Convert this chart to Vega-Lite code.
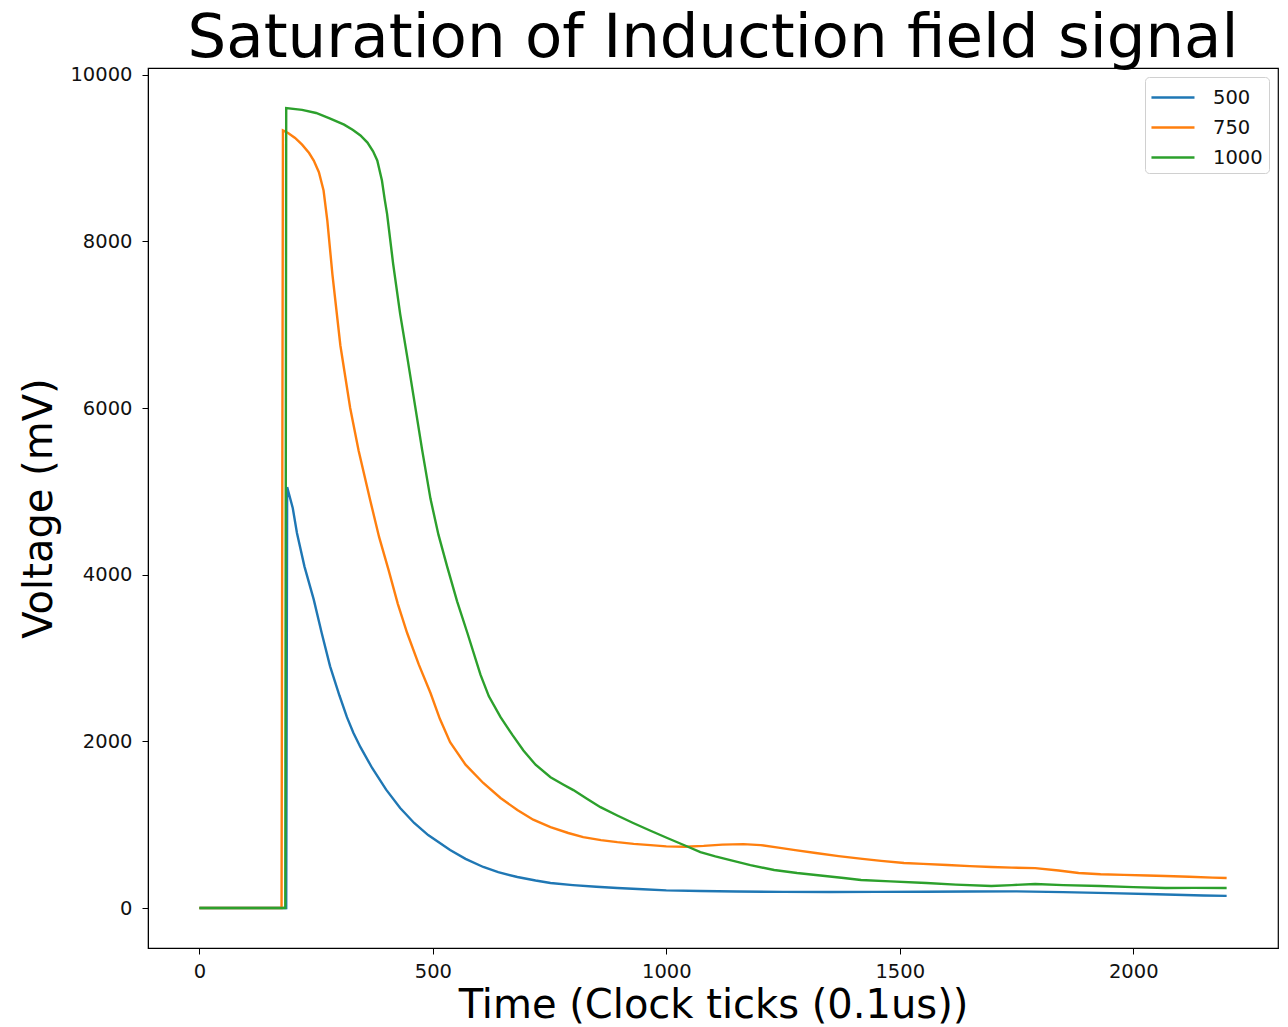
{
  "$schema": "https://vega.github.io/schema/vega-lite/v6.json",
  "width": 1130,
  "height": 880,
  "autosize": {"type": "none"},
  "padding": {"left": 148, "top": 68, "right": 10, "bottom": 79},
  "background": "white",
  "title": {
    "text": "Saturation of Induction field signal",
    "font": "DejaVu Sans",
    "fontSize": 61,
    "fontWeight": "normal",
    "color": "black",
    "anchor": "middle",
    "baseline": "alphabetic",
    "offset": 10,
    "dy": 63
  },
  "config": {
    "view": {"stroke": "black", "strokeWidth": 1.2},
    "axis": {
      "labelFont": "DejaVu Sans",
      "labelFontSize": 19.5,
      "labelColor": "#111",
      "tickColor": "black",
      "tickSize": 6,
      "domainColor": "black",
      "titleFont": "DejaVu Sans",
      "titleFontSize": 40,
      "titleFontWeight": "normal",
      "titleColor": "black",
      "grid": false
    },
    "legend": {
      "labelFont": "DejaVu Sans",
      "labelFontSize": 19.5,
      "labelColor": "#111"
    }
  },
  "data": {
    "values": [
      {"t": 0, "v": 0, "s": "500"}, {"t": 186, "v": 0, "s": "500"}, {"t": 188, "v": 5050, "s": "500"},
      {"t": 200, "v": 4800, "s": "500"}, {"t": 209, "v": 4500, "s": "500"}, {"t": 225, "v": 4100, "s": "500"},
      {"t": 245, "v": 3700, "s": "500"}, {"t": 262, "v": 3300, "s": "500"}, {"t": 280, "v": 2900, "s": "500"},
      {"t": 300, "v": 2550, "s": "500"}, {"t": 316, "v": 2290, "s": "500"}, {"t": 330, "v": 2100, "s": "500"},
      {"t": 345, "v": 1930, "s": "500"}, {"t": 370, "v": 1680, "s": "500"}, {"t": 400, "v": 1420, "s": "500"},
      {"t": 430, "v": 1200, "s": "500"}, {"t": 460, "v": 1020, "s": "500"}, {"t": 490, "v": 875, "s": "500"},
      {"t": 537, "v": 695, "s": "500"}, {"t": 570, "v": 590, "s": "500"}, {"t": 608, "v": 492, "s": "500"},
      {"t": 640, "v": 430, "s": "500"}, {"t": 681, "v": 372, "s": "500"}, {"t": 720, "v": 330, "s": "500"},
      {"t": 752, "v": 300, "s": "500"}, {"t": 800, "v": 275, "s": "500"}, {"t": 850, "v": 255, "s": "500"},
      {"t": 895, "v": 240, "s": "500"}, {"t": 950, "v": 225, "s": "500"}, {"t": 1000, "v": 212, "s": "500"},
      {"t": 1073, "v": 204, "s": "500"}, {"t": 1150, "v": 198, "s": "500"}, {"t": 1250, "v": 193, "s": "500"},
      {"t": 1350, "v": 192, "s": "500"}, {"t": 1450, "v": 193, "s": "500"}, {"t": 1550, "v": 195, "s": "500"},
      {"t": 1650, "v": 198, "s": "500"}, {"t": 1750, "v": 200, "s": "500"}, {"t": 1850, "v": 190, "s": "500"},
      {"t": 1950, "v": 178, "s": "500"}, {"t": 2050, "v": 165, "s": "500"}, {"t": 2150, "v": 150, "s": "500"},
      {"t": 2200, "v": 145, "s": "500"},

      {"t": 0, "v": 0, "s": "750"}, {"t": 176, "v": 0, "s": "750"}, {"t": 179, "v": 9330, "s": "750"},
      {"t": 190, "v": 9300, "s": "750"}, {"t": 205, "v": 9240, "s": "750"}, {"t": 220, "v": 9160, "s": "750"},
      {"t": 235, "v": 9060, "s": "750"}, {"t": 245, "v": 8970, "s": "750"}, {"t": 256, "v": 8830, "s": "750"},
      {"t": 266, "v": 8610, "s": "750"}, {"t": 274, "v": 8250, "s": "750"}, {"t": 285, "v": 7600, "s": "750"},
      {"t": 302, "v": 6750, "s": "750"}, {"t": 323, "v": 6000, "s": "750"}, {"t": 341, "v": 5490, "s": "750"},
      {"t": 366, "v": 4890, "s": "750"}, {"t": 385, "v": 4450, "s": "750"}, {"t": 405, "v": 4060, "s": "750"},
      {"t": 425, "v": 3650, "s": "750"}, {"t": 445, "v": 3300, "s": "750"}, {"t": 470, "v": 2920, "s": "750"},
      {"t": 495, "v": 2580, "s": "750"}, {"t": 515, "v": 2270, "s": "750"}, {"t": 537, "v": 1990, "s": "750"},
      {"t": 570, "v": 1720, "s": "750"}, {"t": 608, "v": 1500, "s": "750"}, {"t": 645, "v": 1320, "s": "750"},
      {"t": 681, "v": 1175, "s": "750"}, {"t": 715, "v": 1060, "s": "750"}, {"t": 752, "v": 970, "s": "750"},
      {"t": 790, "v": 900, "s": "750"}, {"t": 822, "v": 850, "s": "750"}, {"t": 860, "v": 815, "s": "750"},
      {"t": 895, "v": 790, "s": "750"}, {"t": 930, "v": 770, "s": "750"}, {"t": 966, "v": 755, "s": "750"},
      {"t": 1000, "v": 740, "s": "750"}, {"t": 1040, "v": 735, "s": "750"}, {"t": 1080, "v": 745, "s": "750"},
      {"t": 1120, "v": 760, "s": "750"}, {"t": 1165, "v": 767, "s": "750"}, {"t": 1202, "v": 755, "s": "750"},
      {"t": 1240, "v": 725, "s": "750"}, {"t": 1276, "v": 695, "s": "750"}, {"t": 1320, "v": 660, "s": "750"},
      {"t": 1369, "v": 623, "s": "750"}, {"t": 1420, "v": 590, "s": "750"}, {"t": 1460, "v": 565, "s": "750"},
      {"t": 1509, "v": 540, "s": "750"}, {"t": 1550, "v": 530, "s": "750"}, {"t": 1602, "v": 516, "s": "750"},
      {"t": 1650, "v": 503, "s": "750"}, {"t": 1696, "v": 492, "s": "750"}, {"t": 1740, "v": 485, "s": "750"},
      {"t": 1790, "v": 478, "s": "750"}, {"t": 1840, "v": 450, "s": "750"}, {"t": 1883, "v": 420, "s": "750"},
      {"t": 1930, "v": 405, "s": "750"}, {"t": 1980, "v": 398, "s": "750"}, {"t": 2030, "v": 390, "s": "750"},
      {"t": 2069, "v": 384, "s": "750"}, {"t": 2120, "v": 375, "s": "750"}, {"t": 2170, "v": 365, "s": "750"},
      {"t": 2200, "v": 360, "s": "750"},

      {"t": 0, "v": 0, "s": "1000"}, {"t": 184, "v": 0, "s": "1000"}, {"t": 186, "v": 9600, "s": "1000"},
      {"t": 220, "v": 9578, "s": "1000"}, {"t": 250, "v": 9540, "s": "1000"}, {"t": 279, "v": 9475, "s": "1000"},
      {"t": 310, "v": 9400, "s": "1000"}, {"t": 329, "v": 9335, "s": "1000"}, {"t": 345, "v": 9270, "s": "1000"},
      {"t": 360, "v": 9185, "s": "1000"}, {"t": 372, "v": 9080, "s": "1000"}, {"t": 381, "v": 8970, "s": "1000"},
      {"t": 391, "v": 8730, "s": "1000"}, {"t": 397, "v": 8500, "s": "1000"}, {"t": 402, "v": 8330, "s": "1000"},
      {"t": 415, "v": 7730, "s": "1000"}, {"t": 430, "v": 7130, "s": "1000"}, {"t": 445, "v": 6620, "s": "1000"},
      {"t": 459, "v": 6130, "s": "1000"}, {"t": 477, "v": 5500, "s": "1000"}, {"t": 495, "v": 4910, "s": "1000"},
      {"t": 512, "v": 4480, "s": "1000"}, {"t": 531, "v": 4090, "s": "1000"}, {"t": 552, "v": 3680, "s": "1000"},
      {"t": 574, "v": 3300, "s": "1000"}, {"t": 602, "v": 2800, "s": "1000"}, {"t": 620, "v": 2540, "s": "1000"},
      {"t": 645, "v": 2290, "s": "1000"}, {"t": 670, "v": 2080, "s": "1000"}, {"t": 694, "v": 1890, "s": "1000"},
      {"t": 720, "v": 1720, "s": "1000"}, {"t": 752, "v": 1570, "s": "1000"}, {"t": 780, "v": 1480, "s": "1000"},
      {"t": 801, "v": 1415, "s": "1000"}, {"t": 830, "v": 1310, "s": "1000"}, {"t": 859, "v": 1210, "s": "1000"},
      {"t": 895, "v": 1110, "s": "1000"}, {"t": 929, "v": 1020, "s": "1000"}, {"t": 965, "v": 930, "s": "1000"},
      {"t": 1002, "v": 840, "s": "1000"}, {"t": 1040, "v": 750, "s": "1000"}, {"t": 1073, "v": 670, "s": "1000"},
      {"t": 1105, "v": 620, "s": "1000"}, {"t": 1137, "v": 575, "s": "1000"}, {"t": 1180, "v": 515, "s": "1000"},
      {"t": 1231, "v": 456, "s": "1000"}, {"t": 1280, "v": 420, "s": "1000"}, {"t": 1330, "v": 390, "s": "1000"},
      {"t": 1380, "v": 360, "s": "1000"}, {"t": 1417, "v": 336, "s": "1000"}, {"t": 1480, "v": 320, "s": "1000"},
      {"t": 1557, "v": 300, "s": "1000"}, {"t": 1620, "v": 280, "s": "1000"}, {"t": 1696, "v": 264, "s": "1000"},
      {"t": 1740, "v": 275, "s": "1000"}, {"t": 1790, "v": 288, "s": "1000"}, {"t": 1850, "v": 275, "s": "1000"},
      {"t": 1929, "v": 264, "s": "1000"}, {"t": 2000, "v": 250, "s": "1000"}, {"t": 2069, "v": 240, "s": "1000"},
      {"t": 2130, "v": 242, "s": "1000"}, {"t": 2200, "v": 240, "s": "1000"}
    ]
  },
  "mark": {"type": "line", "strokeWidth": 2.4, "clip": true},
  "encoding": {
    "x": {
      "field": "t",
      "type": "quantitative",
      "scale": {"domain": [-110, 2310], "nice": false, "zero": false},
      "axis": {"values": [0, 500, 1000, 1500, 2000], "title": "Time (Clock ticks (0.1us))", "format": "d", "labelPadding": 8, "titlePadding": 5}
    },
    "y": {
      "field": "v",
      "type": "quantitative",
      "scale": {"domain": [-480, 10080], "nice": false, "zero": false},
      "axis": {"values": [0, 2000, 4000, 6000, 8000, 10000], "title": "Voltage (mV)", "format": "d", "labelPadding": 10, "titlePadding": 10}
    },
    "color": {
      "field": "s",
      "type": "nominal",
      "scale": {"domain": ["500", "750", "1000"], "range": ["#1f77b4", "#ff7f0e", "#2ca02c"]},
      "legend": {
        "title": null,
        "orient": "none",
        "legendX": 997,
        "legendY": 9,
        "symbolType": "M-1.08,0H2.23",
        "symbolSize": 676,
        "symbolStrokeWidth": 2.5,
        "rowPadding": 6,
        "padding": 6,
        "fillColor": "white",
        "strokeColor": "#d0d0d0",
        "cornerRadius": 4,
        "labelOffset": 33
      }
    }
  }
}
